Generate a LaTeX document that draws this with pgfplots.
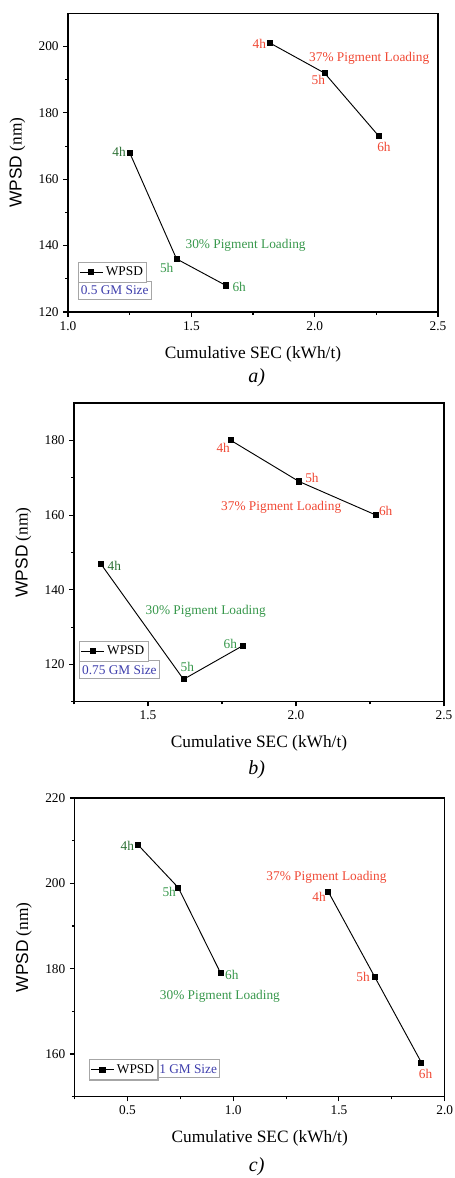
\documentclass[border=0pt]{standalone}
\usepackage{fontspec}
\setmainfont{Liberation Serif}
\setsansfont{Liberation Sans}
\usepackage{pgfplots}
\pgfplotsset{compat=1.18}

\definecolor{lblred}{RGB}{240,72,52}
\definecolor{lblgreen}{RGB}{56,152,76}
\definecolor{lbldkgreen}{RGB}{44,112,52}
\definecolor{lblblue}{RGB}{62,62,172}

\tikzset{
  red lbl/.style={text=lblred, font=\fontsize{10}{12}\selectfont},
  green lbl/.style={text=lblgreen, font=\fontsize{10}{12}\selectfont},
  dk lbl/.style={text=lbldkgreen, font=\fontsize{10}{12}\selectfont},
  gm box/.style={draw=gray!70, line width=0.8pt, anchor=north west, text=lblblue,
    font=\fontsize{10}{12}\selectfont, inner sep=2pt, minimum height=13.5pt},
}

\pgfplotsset{
  panel/.style={
    scale only axis,
    width=277.5pt, height=224pt,
    anchor=south west,
    axis line style={line width=1pt},
    tick pos=left, tick align=outside,
    major tick length=3.5pt, minor tick length=2pt,
    every tick/.style={black, line width=0.8pt},
    tick label style={font=\fontsize{10}{12}\selectfont},
    /pgf/number format/assume math mode=true,
    /pgf/number format/fixed, /pgf/number format/fixed zerofill,
    xticklabel style={/pgf/number format/precision=1},
    yticklabel style={/pgf/number format/precision=0},
    xlabel={Cumulative SEC (kWh/t)},
    ylabel={{\sffamily WPSD} (nm)},
    label style={font=\fontsize{13}{15}\selectfont},
    xlabel style={at={([yshift=-31.5pt]axis description cs:0.5,0)}, anchor=center},
    ylabel style={at={([xshift=-38pt]axis description cs:0,0.5)}, anchor=center},
    clip=false,
    legend style={draw=gray!70, line width=0.8pt, anchor=north west,
      font=\fontsize{10}{12}\selectfont, inner xsep=1pt, inner ysep=1.5pt,
      cells={anchor=west}},
  },
  wpsd/.style={black, line width=0.7pt, mark=square*, mark size=1.9pt,
    mark options={solid}},
}

\begin{document}
\begin{tikzpicture}
\useasboundingbox (0,0) rectangle (340.5pt,883.5pt);

% a) 0.5 GM
\begin{axis}[panel, at={(51pt,649.5pt)},
  xmin=1.0, xmax=2.5, ymin=120, ymax=210,
  xtick={1.0,1.5,2.0,2.5}, minor xtick={1.25,1.75,2.25},
  ytick={120,140,160,180,200}, minor ytick={130,150,170,190},
  legend style={at={(0.026,0.168)}}]
\addplot[wpsd] coordinates {(1.82,201) (2.04,192) (2.26,173)};
\addlegendentry{WPSD}
\addplot[wpsd, forget plot] coordinates {(1.25,168) (1.44,136) (1.64,128)};
\node[red lbl] at (axis cs:1.776,200.9) {4h};
\node[red lbl] at (axis cs:2.015,189.8) {5h};
\node[red lbl] at (axis cs:2.281,169.6) {6h};
\node[red lbl] at (axis cs:2.221,196.4) {37\% Pigment Loading};
\node[dk lbl] at (axis cs:1.207,168.2) {4h};
\node[green lbl] at (axis cs:1.400,133.2) {5h};
\node[green lbl] at (axis cs:1.694,127.6) {6h};
\node[green lbl] at (axis cs:1.720,140.0) {30\% Pigment Loading};
\node[gm box, minimum width=49.5pt] at (rel axis cs:0.026,0.104) {0.5 GM Size};
\end{axis}
\node[font=\fontsize{15}{17}\selectfont\itshape] at (192.5pt,600pt) {a)};

% b) 0.75 GM
\begin{axis}[panel, at={(55.5pt,357.2pt)},
  xmin=1.25, xmax=2.5, ymin=110, ymax=190,
  xtick={1.5,2.0,2.5}, minor xtick={1.25,1.75,2.25},
  ytick={120,140,160,180}, minor ytick={110,130,150,170},
  legend style={at={(0.0135,0.204)}}]
\addplot[wpsd] coordinates {(1.78,180) (2.01,169) (2.27,160)};
\addlegendentry{WPSD}
\addplot[wpsd, forget plot] coordinates {(1.34,147) (1.62,116) (1.82,125)};
\node[red lbl] at (axis cs:1.754,178.1) {4h};
\node[red lbl] at (axis cs:2.054,170.0) {5h};
\node[red lbl] at (axis cs:2.303,161.1) {6h};
\node[red lbl] at (axis cs:1.950,162.2) {37\% Pigment Loading};
\node[dk lbl] at (axis cs:1.386,146.4) {4h};
\node[green lbl] at (axis cs:1.633,119.2) {5h};
\node[green lbl] at (axis cs:1.778,125.6) {6h};
\node[green lbl] at (axis cs:1.695,134.1) {30\% Pigment Loading};
\node[gm box, minimum width=58pt] at (rel axis cs:0.0135,0.139) {0.75 GM Size};
\end{axis}
\node[font=\fontsize{15}{17}\selectfont\itshape] at (192.5pt,306pt) {b)};

% c) 1 GM
\begin{axis}[panel, at={(56pt,61pt)},
  xmin=0.25, xmax=2.0, ymin=150, ymax=220,
  xtick={0.5,1.0,1.5,2.0}, minor xtick={0.25,0.75,1.25,1.75},
  ytick={160,180,200,220}, minor ytick={150,170,190,210},
  legend style={at={(0.038,0.125)}}]
\addplot[wpsd] coordinates {(1.45,198) (1.67,178) (1.89,158)};
\addlegendentry{WPSD}
\addplot[wpsd, forget plot] coordinates {(0.55,209) (0.74,199) (0.94,179)};
\node[red lbl] at (axis cs:1.406,196.9) {4h};
\node[red lbl] at (axis cs:1.614,178.1) {5h};
\node[red lbl] at (axis cs:1.910,155.3) {6h};
\node[red lbl] at (axis cs:1.441,201.4) {37\% Pigment Loading};
\node[dk lbl] at (axis cs:0.499,208.8) {4h};
\node[green lbl] at (axis cs:0.697,197.9) {5h};
\node[green lbl] at (axis cs:0.993,178.5) {6h};
\node[green lbl] at (axis cs:0.937,173.5) {30\% Pigment Loading};
\node[gm box, minimum width=44pt] at (rel axis cs:0.220,0.125) {1 GM Size};
\end{axis}
\node[font=\fontsize{15}{17}\selectfont\itshape] at (192.5pt,8.5pt) {c)};
\end{tikzpicture}
\end{document}
